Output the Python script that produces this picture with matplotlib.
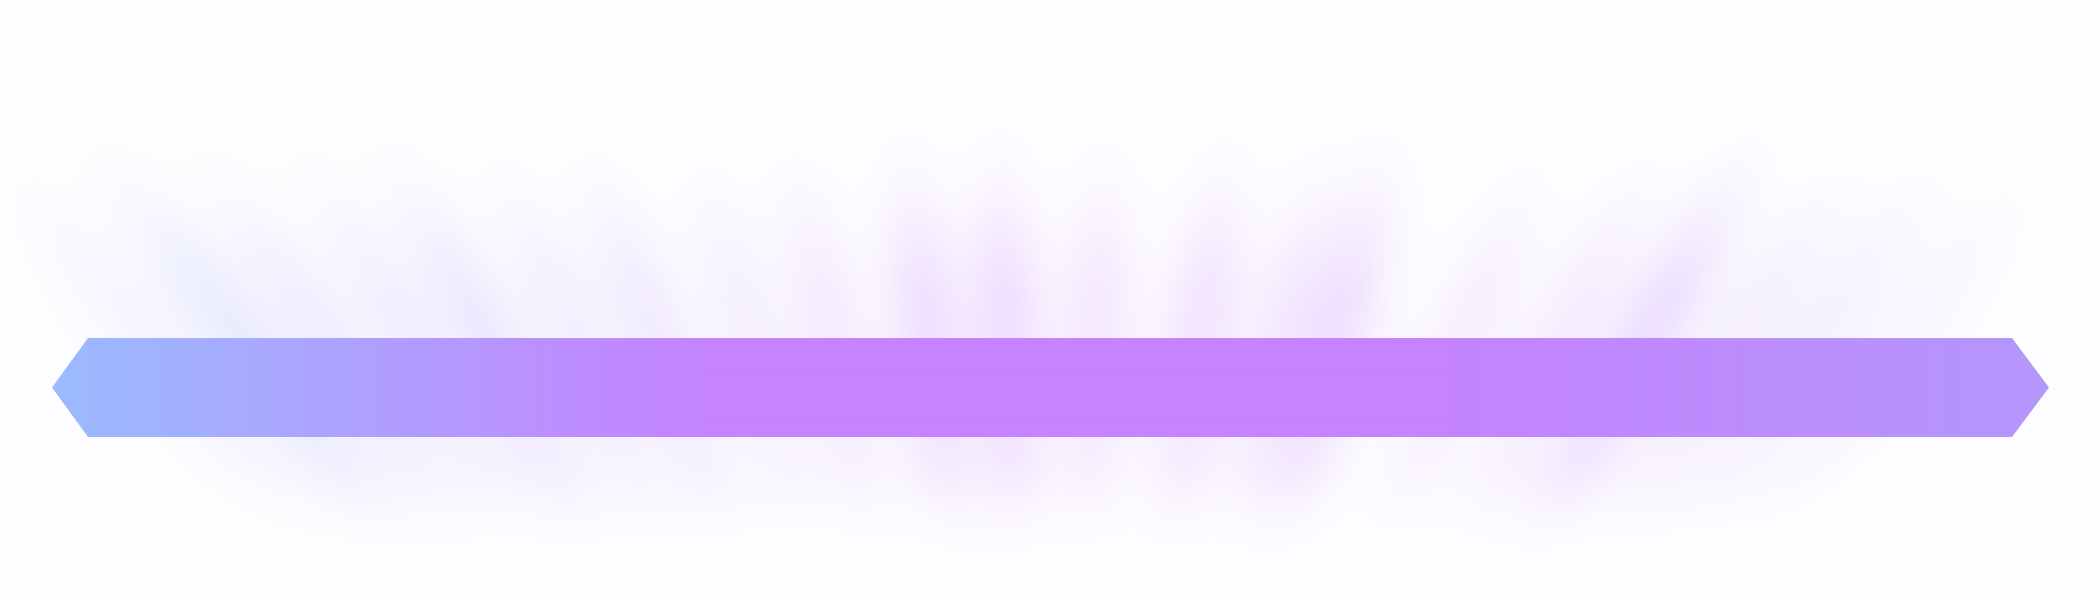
import numpy as np
import matplotlib
matplotlib.use("Agg")
import matplotlib.pyplot as plt
from matplotlib.patches import Polygon
from matplotlib.colors import to_rgb

# canvas size in pixels
W, H = 2100, 600

# glow streaks: x position where each streak meets the bar top, and its strength
streak_x = [120, 214, 301, 390, 469, 560, 643, 740, 824, 924, 1005, 1097, 1204,
            1290, 1345, 1479, 1580, 1666, 1760, 1840, 1930]
streak_strength = [0.10, 0.20, 0.14, 0.12, 0.16, 0.10, 0.12, 0.08, 0.10, 0.17, 0.18,
                   0.12, 0.14, 0.10, 0.16, 0.08, 0.10, 0.22, 0.10, 0.10, 0.07]

# bar gradient stops (x position, colour)
grad_x = [52, 700, 1450, 2049]
grad_colors = ["#9bbbff", "#c583ff", "#c583ff", "#b497fc"]

# glow colour along x
glow_x = [0, 500, 1050, 1600, 2100]
glow_colors = ["#8fa6ff", "#a890ff", "#c477ff", "#b77cff", "#a996ff"]

# bar outline
bar_top, bar_bottom = 338, 437
tip_left, corner_left = 52, 88
corner_right, tip_right = 2012, 2049


def colour_ramp(xs, stops, colors):
    rgb = np.array([to_rgb(c) for c in colors])
    return np.stack([np.interp(xs, stops, rgb[:, k]) for k in range(3)], axis=-1)


def glow_image():
    yy, xx = np.mgrid[0:H, 0:W].astype(float)
    fx, fy = 1050.0, 1500.0
    r = np.hypot(xx - fx, fy - yy)
    ang = np.arctan2(xx - fx, fy - yy)
    lobes = np.zeros((H, W))
    for x0, s in zip(streak_x, streak_strength):
        a0 = np.arctan2(x0 - fx, fy - 300.0)
        d = (ang - a0) * r
        lobes += s * np.exp(-0.5 * (d / 28.0) ** 2)
    # vertical envelope: strong just above the bar, weaker below it
    env = np.exp(-0.5 * ((yy - 315) / 85.0) ** 2) \
        + 0.45 * np.exp(-0.5 * ((yy - 455) / 45.0) ** 2)
    # horizontal fade at the far edges
    env *= np.clip(1.2 - np.abs(xx - 1050) / 1050.0, 0, 1) ** 0.5 + 0.15
    halo = 0.03 * np.exp(-0.5 * (((xx - 1050) / 950.0) ** 2 + ((yy - 360) / 110.0) ** 2))
    alpha = np.clip(lobes * env + halo, 0, 0.5)
    col = colour_ramp(np.arange(W), glow_x, glow_colors)[None, :, :]
    img = 1.0 - alpha[..., None] * (1.0 - col)
    return img


fig = plt.figure(figsize=(W / 100, H / 100), dpi=100)
ax = fig.add_axes([0, 0, 1, 1])
ax.set_xlim(0, W)
ax.set_ylim(H, 0)
ax.axis("off")

ax.imshow(glow_image(), extent=[0, W, H, 0], interpolation="bilinear", zorder=0)

# gradient bar clipped by its outline
bar_pts = [(tip_left, (bar_top + bar_bottom) / 2), (corner_left, bar_top),
           (corner_right, bar_top), (tip_right, (bar_top + bar_bottom) / 2),
           (corner_right, bar_bottom), (corner_left, bar_bottom)]
poly = Polygon(bar_pts, closed=True, facecolor="none", edgecolor="none")
ax.add_patch(poly)
grad = colour_ramp(np.linspace(0, W, W), grad_x, grad_colors)[None, :, :]
im = ax.imshow(grad, extent=[0, W, bar_bottom, bar_top], aspect="auto",
               interpolation="bilinear", zorder=2)
im.set_clip_path(poly)
ax.set_xlim(0, W)
ax.set_ylim(H, 0)

fig.savefig("out.png", dpi=100)
